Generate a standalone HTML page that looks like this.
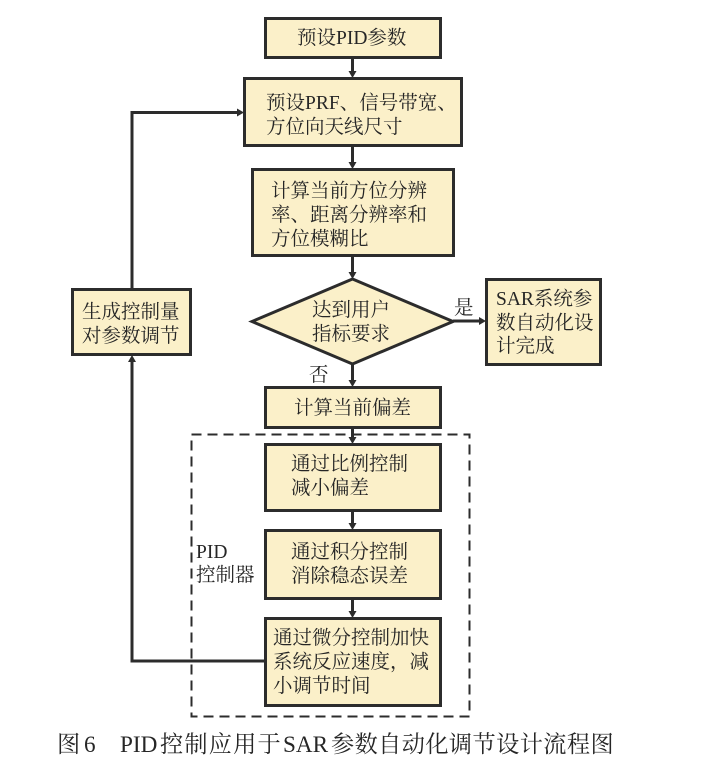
<!DOCTYPE html>
<html><head><meta charset="utf-8">
<style>
html,body{margin:0;padding:0;background:#fff;width:701px;height:776px;overflow:hidden}
svg{display:block}
text{font-family:"Liberation Serif","Noto Serif CJK SC",serif;fill:#262626;font-size:19.5px}
.c{font-size:23.2px}
.b{fill:#fbf0c9;stroke:#2c2c2c;stroke-width:3}
.l{fill:none;stroke:#2c2c2c;stroke-width:3}
.a{fill:#2c2c2c}
</style></head><body>
<svg width="701" height="776" viewBox="0 0 701 776" xmlns="http://www.w3.org/2000/svg">
<rect width="701" height="776" fill="#fff"/>
<rect x="191.500" y="434.500" width="278" height="282" fill="none" stroke="#2c2c2c" stroke-width="2" stroke-dasharray="10 6"/>
<path class="l" d="M352.500 58V72M352.500 146V163M352.500 256V273M352.500 364V381M352.500 427V438M352.500 510V524M352.500 598V612M453 321H480"/>
<path class="l" d="M132 289V112.500H238M265 661H132V361"/>
<path class="a" d="M348.500 71H356.500L352.500 78ZM348.500 162H356.500L352.500 169ZM348.500 272H356.500L352.500 279ZM348.500 380H356.500L352.500 387ZM348.500 437H356.500L352.500 444ZM348.500 523H356.500L352.500 530ZM348.500 611H356.500L352.500 618ZM479 317V325L486 321ZM237 108.500V116.500L244 112.500ZM128 362H136L132 355Z"/>
<rect class="b" x="265.500" y="18.500" width="175" height="39"/>
<rect class="b" x="244.500" y="78.500" width="217" height="67"/>
<rect class="b" x="252.500" y="169.500" width="201" height="86"/>
<path class="b" d="M352.500 279L453 321.500L352.500 364L252 321.500Z"/>
<rect class="b" x="486.500" y="279.500" width="114" height="85"/>
<rect class="b" x="72.500" y="289.500" width="118" height="65"/>
<rect class="b" x="265.500" y="387.500" width="175" height="40"/>
<rect class="b" x="265.500" y="444.500" width="175" height="66"/>
<rect class="b" x="265.500" y="530.500" width="175" height="68"/>
<rect class="b" x="265.500" y="618.500" width="175" height="87"/>
<text x="297" y="44">预设PID参数</text>
<text x="266" y="109">预设PRF、信号带宽、</text>
<text x="266" y="133">方位向天线尺寸</text>
<text x="271" y="197">计算当前方位分辨</text>
<text x="271" y="221">率、距离分辨率和</text>
<text x="271" y="245">方位模糊比</text>
<text x="312" y="316">达到用户</text>
<text x="312" y="340">指标要求</text>
<text x="454" y="314">是</text>
<text x="309" y="381">否</text>
<text x="496" y="305">SAR系统参</text>
<text x="496" y="329">数自动化设</text>
<text x="496" y="352">计完成</text>
<text x="82" y="318">生成控制量</text>
<text x="82" y="342">对参数调节</text>
<text x="294" y="414">计算当前偏差</text>
<text x="291" y="470">通过比例控制</text>
<text x="291" y="494">减小偏差</text>
<text x="291" y="558">通过积分控制</text>
<text x="291" y="582">消除稳态误差</text>
<text x="273" y="644">通过微分控制加快</text>
<text x="273" y="668">系统反应速度，减</text>
<text x="273" y="692">小调节时间</text>
<text x="196" y="558">PID</text>
<text x="196" y="581">控制器</text>
<text class="c" x="57" y="752">图</text>
<text class="c" x="84" y="752">6</text>
<text class="c" x="120" y="752">PID</text>
<text class="c" x="160" y="752" style="letter-spacing:1.2px">控制应用于</text>
<text class="c" x="283" y="752">SAR</text>
<text class="c" x="331" y="752" style="letter-spacing:.4px">参数自动化调节设计流程图</text>
</svg>
</body></html>
